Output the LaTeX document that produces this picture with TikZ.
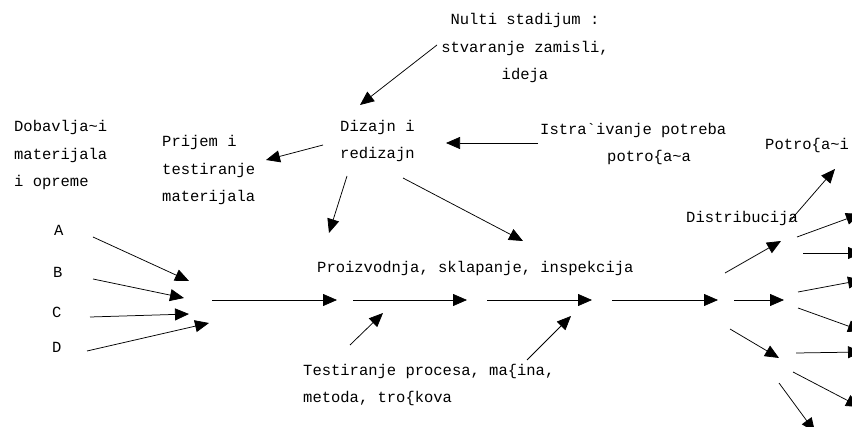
\documentclass[tikz,border=0pt]{standalone}
\usepackage{fontspec}
\newfontfamily\diafont{Liberation Mono}
\usetikzlibrary{arrows.meta}
\begin{document}
\begin{tikzpicture}[x=1pt,y=-1pt,
  lbl/.style={font=\diafont\fontsize{15.5}{27.5}\selectfont, inner sep=0pt},
  arr/.style={line width=0.75pt, -{Triangle[length=14pt,width=12pt]}}]
\useasboundingbox (0,0) rectangle (852,427);
\clip (0,0) rectangle (852,427);

% labels (multi-line labels are placed by the baseline of their last line)
\node[lbl, anchor=base, align=center] (nulti) at (525,80) {Nulti stadijum :\\stvaranje zamisli,\\ideja};
\node[lbl, anchor=base west, align=left] (dizajn) at (340,159) {Dizajn i\\redizajn};
\node[lbl, anchor=base west, align=left] (dobav) at (14,187) {Dobavlja\textasciitilde i\\materijala\\i opreme};
\node[lbl, anchor=base west, align=left] (prijem) at (162,202) {Prijem i\\testiranje\\materijala};
\node[lbl, anchor=base west, align=left] (istraz) at (540,162) {Istra`ivanje potreba\\\hspace*{67pt}potro\{a\textasciitilde a};
\node[lbl, anchor=base west] (potroi) at (765,150) {Potro\{a\textasciitilde i};
\node[lbl, anchor=base west] (distr) at (686,223) {Distribucija};
\node[lbl, anchor=base west] (proiz) at (317,273) {Proizvodnja, sklapanje, inspekcija};
\node[lbl, anchor=base west, align=left] (testp) at (303,403) {Testiranje procesa, ma\{ina,\\metoda, tro\{kova};
\node[lbl, anchor=base west] (sa) at (54,236) {A};
\node[lbl, anchor=base west] (sb) at (53,278) {B};
\node[lbl, anchor=base west] (sc) at (52,318) {C};
\node[lbl, anchor=base west] (sd) at (52,353) {D};

% arrow end points
\coordinate (n0) at (437,45);   \coordinate (n1) at (360,105);
\coordinate (i0) at (538,143);  \coordinate (i1) at (446,143);
\coordinate (p0) at (323,145);  \coordinate (p1) at (266,160);
\coordinate (dl0) at (347,176); \coordinate (dl1) at (329,233);
\coordinate (dr0) at (403,178); \coordinate (dr1) at (523,241);
\coordinate (a0) at (93,237);   \coordinate (a1) at (189,281);
\coordinate (b0) at (93,279);   \coordinate (b1) at (184,298);
\coordinate (c0) at (90,317);   \coordinate (c1) at (189,314);
\coordinate (d0) at (87,351);   \coordinate (d1) at (209,323);
\coordinate (m0) at (212,300);  \coordinate (m1) at (337,300);
\coordinate (m2) at (353,300);  \coordinate (m3) at (467,300);
\coordinate (m4) at (487,300);  \coordinate (m5) at (592,300);
\coordinate (m6) at (612,300);  \coordinate (m7) at (718,300);
\coordinate (t0) at (350,345);  \coordinate (t1) at (383,313);
\coordinate (t2) at (527,360);  \coordinate (t3) at (571,316);
\coordinate (q0) at (725,273);  \coordinate (q1) at (781,241);
\coordinate (q2) at (734,300);  \coordinate (q3) at (784,300);
\coordinate (q4) at (730,329);  \coordinate (q5) at (779,358);
\coordinate (u0) at (789,222);  \coordinate (u1) at (835,169);
\coordinate (f0) at (797,237);  \coordinate (f1) at (860,214);
\coordinate (g0) at (803,253);  \coordinate (g1) at (862,253);
\coordinate (h0) at (798,292);  \coordinate (h1) at (862,280);
\coordinate (k0) at (798,308);  \coordinate (k1) at (862,331);
\coordinate (l0) at (796,353);  \coordinate (l1) at (862,352);
\coordinate (o0) at (793,372);  \coordinate (o1) at (860,407);
\coordinate (r0) at (779,383);  \coordinate (r1) at (815,432);

% connectors
\foreach \s/\e in {n0/n1, i0/i1, p0/p1, dl0/dl1, dr0/dr1,
                   a0/a1, b0/b1, c0/c1, d0/d1,
                   m0/m1, m2/m3, m4/m5, m6/m7,
                   t0/t1, t2/t3,
                   q0/q1, q2/q3, q4/q5, u0/u1,
                   f0/f1, g0/g1, h0/h1, k0/k1, l0/l1, o0/o1, r0/r1}
  \draw[arr] (\s) -- (\e);
\end{tikzpicture}
\end{document}
